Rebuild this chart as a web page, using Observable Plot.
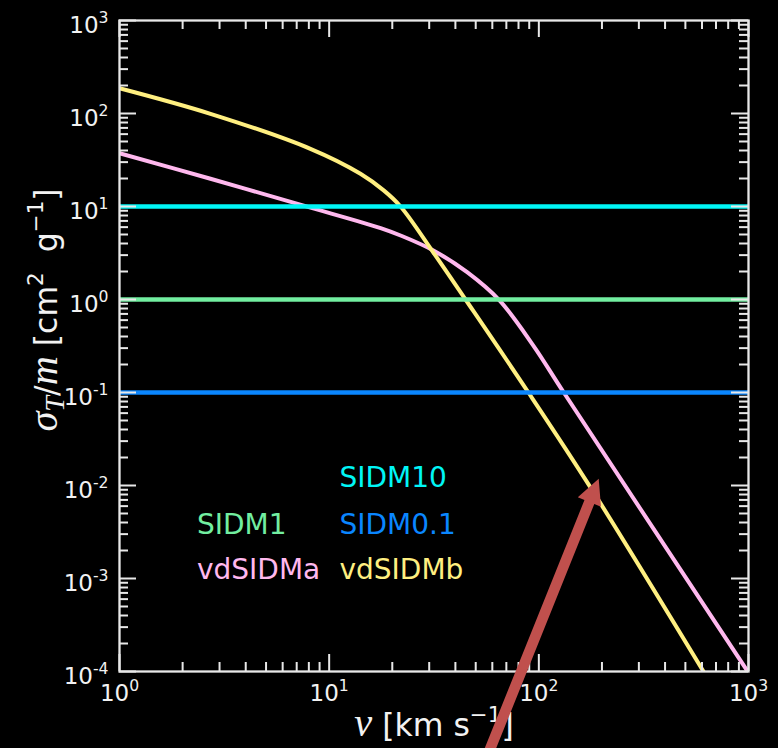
<!DOCTYPE html>
<html>
<head>
<meta charset="utf-8">
<script src="https://cdn.jsdelivr.net/npm/d3@7"></script>
<script src="https://cdn.jsdelivr.net/npm/@observablehq/plot@0.6"></script>
<style>
  html, body { margin: 0; padding: 0; background: #000; }
  #chart svg { display: block; }
</style>
</head>
<body>
<div id="chart"></div>
<script>
// ---------- data ----------
const constNames = ["SIDM10", "SIDM1", "SIDM0.1"];
const constValues = [10, 1, 0.1];
const constColors = ["#00f6f6", "#72eea0", "#0a86ff"];

const vdSIDMaV = [1, 2.716, 7.56, 17.6, 21.9, 31.4, 45.5, 64.9, 94.3, 131.5, 1000];
const vdSIDMaSigma = [37.4, 19.9, 10.2, 5.86, 4.88, 3.37, 1.966, 0.98, 0.318, 0.1, 0.97e-4];
const vdSIDMaColor = "#ffb8ee";

const vdSIDMbV = [1, 2.716, 8.14, 14.1, 18.2, 21.9, 31.4, 44.7, 89.2, 176, 610];
const vdSIDMbSigma = [187, 99.3, 41.7, 22.5, 14.9, 10, 3.20, 1.0, 0.1, 0.0096, 1.0e-4];
const vdSIDMbColor = "#ffef80";

const legendNames = ["SIDM10", "SIDM1", "SIDM0.1", "vdSIDMa", "vdSIDMb"];
const legendColors = ["#00f6f6", "#72eea0", "#0a86ff", "#ffb8ee", "#ffef80"];
const legendV = [11.2, 2.342, 11.2, 2.342, 11.2];
const legendSigma = [0.01198, 0.00377, 0.00377, 0.001237, 0.001237];

const xMajorTicks = [1, 10, 100, 1000];
const xTickLabels = ["10^{0}", "10^{1}", "10^{2}", "10^{3}"];
const yMajorTicks = [1e-4, 1e-3, 1e-2, 1e-1, 1, 10, 100, 1000];
const yTickLabels = ["10^{-4}", "10^{-3}", "10^{-2}", "10^{-1}", "10^{0}", "10^{1}", "10^{2}", "10^{3}"];
const minorMultipliers = [2, 3, 4, 5, 6, 7, 8, 9];

const xLabel = "*v* [km s^{\u22121}]";
const yLabel = "*\u03c3*_{*T*}/*m* [cm^{2}  g^{\u22121}]";

const arrowTipV = [193];
const arrowTipSigma = [0.0118];
const arrowColor = "#c0504d";

// ---------- derived tables ----------
const xMinorTicks = xMajorTicks.slice(0, -1).flatMap(m => minorMultipliers.map(k => k * m));
const yMinorTicks = yMajorTicks.slice(0, -1).flatMap(m => minorMultipliers.map(k => k * m));
const seriesA = vdSIDMaV.map((v, i) => ({v, s: vdSIDMaSigma[i]}));
const seriesB = vdSIDMbV.map((v, i) => ({v, s: vdSIDMbSigma[i]}));
const legend = legendNames.map((name, i) => ({name, v: legendV[i], s: legendSigma[i], color: legendColors[i]}));
const arrowTip = arrowTipV.map((v, i) => ({v, s: arrowTipSigma[i]}));

// ---------- layout ----------
const W = 778, H = 748;
const mL = 119, mR = 30, mT = 20, mB = 77;
const pw = W - mL - mR, ph = H - mT - mB;
const majorLen = 17, minorLen = 9;
const axisColor = "#e8e8e8";
const textColor = "#f2f2f2";

const arrowShape = {
  draw(context, l) {
    const s = 5.3, h = 12.5, hl = 25;
    context.moveTo(-s, 0);
    context.lineTo(-s, hl - l);
    context.lineTo(-h, hl - l);
    context.lineTo(0, -l);
    context.lineTo(h, hl - l);
    context.lineTo(s, hl - l);
    context.lineTo(s, 0);
    context.closePath();
  }
};

const tickMarks = [];
for (const [vals, len] of [[yMajorTicks, majorLen], [yMinorTicks, minorLen]]) {
  tickMarks.push(Plot.tickY(vals, {y: d => d, insetRight: pw - len, stroke: axisColor, strokeWidth: 2}));
  tickMarks.push(Plot.tickY(vals, {y: d => d, insetLeft: pw - len, stroke: axisColor, strokeWidth: 2}));
}
for (const [vals, len] of [[xMajorTicks, majorLen], [xMinorTicks, minorLen]]) {
  tickMarks.push(Plot.tickX(vals, {x: d => d, insetTop: ph - len, stroke: axisColor, strokeWidth: 2}));
  tickMarks.push(Plot.tickX(vals, {x: d => d, insetBottom: ph - len, stroke: axisColor, strokeWidth: 2}));
}

const chart = Plot.plot({
  width: W,
  height: H,
  marginLeft: mL,
  marginRight: mR,
  marginTop: mT,
  marginBottom: mB,
  x: {type: "log", domain: [1, 1000], axis: null},
  y: {type: "log", domain: [1e-4, 1e3], axis: null},
  style: {background: "#000", color: textColor, fontFamily: "'DejaVu Sans', sans-serif", overflow: "hidden"},
  marks: [
    Plot.line(seriesA, {x: "v", y: "s", stroke: vdSIDMaColor, strokeWidth: 4, curve: "catmull-rom", clip: true}),
    Plot.line(seriesB, {x: "v", y: "s", stroke: vdSIDMbColor, strokeWidth: 4, curve: "catmull-rom", clip: true}),
    ...constValues.map((c, i) => Plot.ruleY([c], {stroke: constColors[i], strokeWidth: 4.6})),
    ...tickMarks,
    Plot.frame({stroke: axisColor, strokeWidth: 2.3}),
    Plot.text(legend, {x: "v", y: "s", text: "name", fill: "color", textAnchor: "start", lineAnchor: "middle", fontSize: 28}),
    Plot.text(yMajorTicks, {y: d => d, text: (d, i) => yTickLabels[i], frameAnchor: "left", textAnchor: "end", dx: -11, dy: 5, fontSize: 23, fill: textColor}),
    Plot.text(xMajorTicks, {x: d => d, text: (d, i) => xTickLabels[i], frameAnchor: "bottom", lineAnchor: "top", dy: 12.7, fontSize: 23, fill: textColor}),
    Plot.text([xLabel], {text: d => d, frameAnchor: "bottom", textAnchor: "middle", lineAnchor: "middle", dy: 54, fontSize: 31.5, fill: textColor}),
    Plot.text([yLabel], {text: d => d, frameAnchor: "left", rotate: -90, textAnchor: "middle", lineAnchor: "middle", dx: -73, dy: -36, fontSize: 31.5, fill: textColor}),
    Plot.vector(arrowTip, {x: "v", y: "s", length: 310, rotate: 21.9, anchor: "end", shape: arrowShape, fill: arrowColor, stroke: "none"})
  ]
});

document.getElementById("chart").appendChild(chart);

// rich text: *italic*, ^{superscript}, _{subscript}
const NS = "http://www.w3.org/2000/svg";
function richify(root) {
  root.querySelectorAll("text").forEach(el => {
    const src = el.textContent;
    if (!/[\^_*]/.test(src)) return;
    const base = parseFloat(getComputedStyle(el).fontSize) || 16;
    const segs = [];
    let italic = false, script = null, buf = "";
    const flush = () => { if (buf) segs.push({t: buf, italic, script}); buf = ""; };
    for (let i = 0; i < src.length; i++) {
      const c = src[i];
      if (c === "*") { flush(); italic = !italic; }
      else if ((c === "^" || c === "_") && src[i + 1] === "{") { flush(); script = c === "^" ? "sup" : "sub"; i++; }
      else if (c === "}" && script) { flush(); script = null; }
      else buf += c;
    }
    flush();
    el.textContent = "";
    let cur = 0;
    for (const s of segs) {
      const ts = document.createElementNS(NS, "tspan");
      ts.textContent = s.t;
      let size = base, target = 0;
      if (s.script === "sup") { size = base * 0.68; target = -0.43 * base; }
      if (s.script === "sub") { size = base * 0.7; target = 0.22 * base; }
      if (s.italic) {
        ts.setAttribute("font-family", "'Liberation Serif', serif");
        ts.setAttribute("font-style", "italic");
        size *= 1.28;
      }
      if (size !== base) ts.setAttribute("font-size", size.toFixed(2));
      if (target !== cur) { ts.setAttribute("dy", (target - cur).toFixed(2)); cur = target; }
      el.appendChild(ts);
    }
  });
}
richify(chart);
</script>
</body>
</html>
